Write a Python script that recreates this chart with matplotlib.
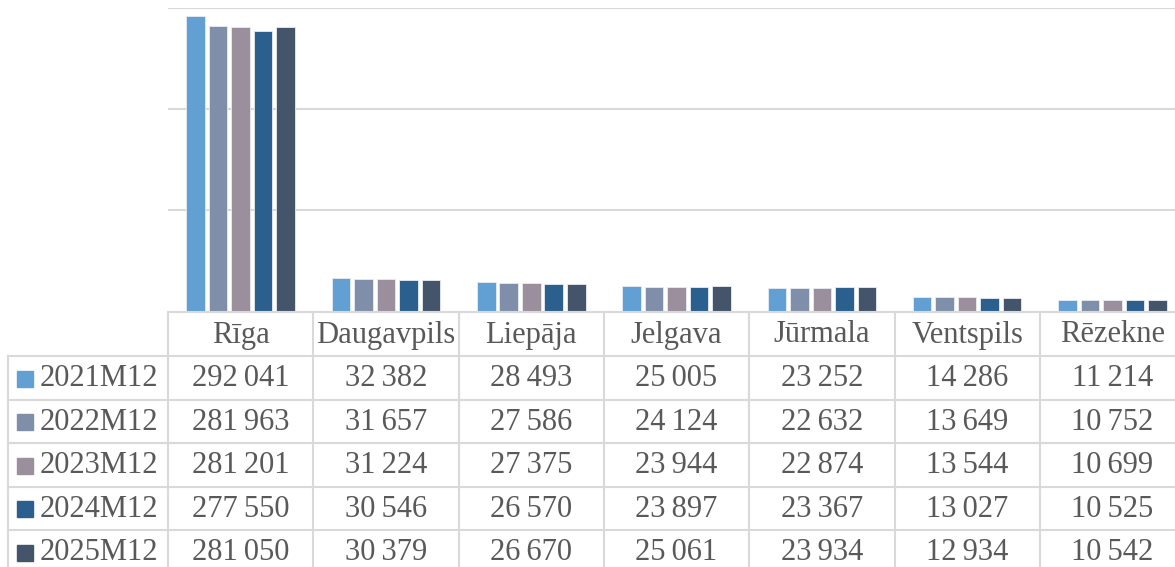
import numpy as np
import matplotlib
matplotlib.use("Agg")
import matplotlib.pyplot as plt
from matplotlib.lines import Line2D
from matplotlib.patches import Rectangle

# Data
cities = ["Rīga", "Daugavpils", "Liepāja", "Jelgava", "Jūrmala", "Ventspils", "Rēzekne"]
periods = ["2021M12", "2022M12", "2023M12", "2024M12", "2025M12"]
v2021 = [292041, 32382, 28493, 25005, 23252, 14286, 11214]
v2022 = [281963, 31657, 27586, 24124, 22632, 13649, 10752]
v2023 = [281201, 31224, 27375, 23944, 22874, 13544, 10699]
v2024 = [277550, 30546, 26570, 23897, 23367, 13027, 10525]
v2025 = [281050, 30379, 26670, 25061, 23934, 12934, 10542]
series = [v2021, v2022, v2023, v2024, v2025]
colors = ["#629fd3", "#7f8fa9", "#9c8f9d", "#2b5f8e", "#44546a"]

W, H = 1175, 567
plt.rcParams['font.family'] = ['Liberation Serif', 'DejaVu Serif']
txt_color = "#595959"
grid_color = "#d9d9d9"
fs = 22

fig = plt.figure(figsize=(W / 100, H / 100), dpi=100)

def fx(x):
    return x / W

def fy(y):
    return 1 - y / H

# layout in pixels
left, col_w = 168, 145.3
ncol = len(cities)
right = left + ncol * col_w
plot_top, plot_bot = 8, 311

ax = fig.add_axes([fx(left), fy(plot_bot), (right - left) / W, (plot_bot - plot_top) / H])
x = np.arange(ncol)
step = 0.155
bw = 0.128
for i, (vals, c) in enumerate(zip(series, colors)):
    ax.bar(x + (i - 2) * step, vals, width=bw, color=c, edgecolor="#e6ecf3", linewidth=0.6, zorder=3)
ax.set_xlim(-0.5, ncol - 0.5)
ax.set_ylim(0, 300000)
ax.set_yticks([100000, 200000, 300000])
ax.yaxis.grid(True, color=grid_color, linewidth=1.5, zorder=0)
ax.set_xticks([])
ax.tick_params(left=False, labelleft=False)
for s in ax.spines.values():
    s.set_visible(False)

# data table
head_top, head_bot = 312, 356
row_h = 43.5
legend_left = 8
rows_y = [head_bot + k * row_h for k in range(len(periods) + 1)]

def hline(x0, x1, y):
    fig.add_artist(Line2D([fx(x0), fx(x1)], [fy(y), fy(y)], color=grid_color, linewidth=1.5))

def vline(x, y0, y1):
    fig.add_artist(Line2D([fx(x), fx(x)], [fy(y0), fy(y1)], color=grid_color, linewidth=1.5))

hline(left, right, head_top)
for y in rows_y:
    hline(legend_left, right, y)
vline(legend_left, head_bot, H + 5)
for k in range(ncol + 1):
    vline(left + k * col_w, head_top, H + 5)

for k, name in enumerate(cities):
    fig.text(fx(left + (k + 0.5) * col_w), fy((head_top + head_bot) / 2 + 1), name,
             ha="center", va="center", fontsize=fs, color=txt_color)

for r, (p, vals, c) in enumerate(zip(periods, series, colors)):
    yc = rows_y[r] + row_h / 2 + 1
    fig.add_artist(Rectangle((fx(17), fy(yc + 8)), 16 / W, 16 / H, color=c,
                             transform=fig.transFigure))
    fig.text(fx(40), fy(yc), p, ha="left", va="center", fontsize=fs, color=txt_color)
    for k, v in enumerate(vals):
        fig.text(fx(left + (k + 0.5) * col_w), fy(yc), f"{v:,}".replace(",", "\u2009"),
                 ha="center", va="center", fontsize=fs, color=txt_color)

fig.savefig("out.png", dpi=100)
